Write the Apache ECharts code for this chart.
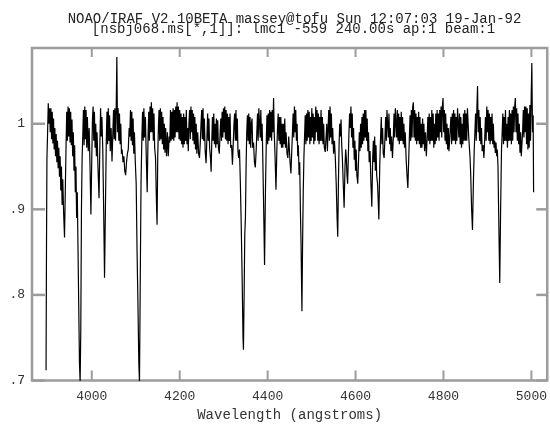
<!DOCTYPE html>
<html>
<head>
<meta charset="utf-8">
<script src="https://cdn.jsdelivr.net/npm/echarts@6.0.0/dist/echarts.min.js"></script>
<style>
html,body{margin:0;padding:0;background:#fff;}
#chart{width:550px;height:428px;}
</style>
</head>
<body>
<div id="chart"></div>
<script>
// ---- data ----
var titleLine1 = "NOAO/IRAF V2.10BETA massey@tofu Sun 12:07:03 19-Jan-92";
var titleLine2 = "[nsbj068.ms[*,1]]: lmc1 -559 240.00s ap:1 beam:1";
var xAxisTitle = "Wavelength (angstroms)";
var xTickValues = [4000, 4200, 4400, 4600, 4800, 5000];
var yTickValues = [0.7, 0.8, 0.9, 1.0];
var yTickLabels = [".7", ".8", ".9", "1"];
var xRange = [3864, 5036];
var yRange = [0.7, 1.0885];

// spectrum: [wavelength (A), normalised flux]
var spectrum = [
[3896,0.712],[3897,0.86],[3898,0.96],[3899.5,0.99],[3901,1.024],[3902.5,1.0],[3904,1.018],[3905.5,0.99],[3907,1.018],[3908.5,0.982],
[3910,1.014],[3911.5,0.977],[3913,1.006],[3914.5,0.97],[3916,0.995],[3917.5,0.962],[3919,0.988],[3920.5,0.955],[3922,0.98],[3923.5,0.948],
[3925,0.972],[3926.5,0.938],[3928,0.962],[3929.5,0.922],[3931,0.95],[3932.5,0.905],[3934,0.935],[3936,0.895],[3938,0.867],[3940,0.93],
[3941.5,0.975],[3943,1.014],[3944.5,0.98],[3946,1.02],[3947.5,0.985],[3949,1.018],[3950.5,0.978],[3952,1.014],[3953.5,0.975],[3955,1.005],
[3956.5,0.962],[3958,0.99],[3959.5,0.945],[3961,0.975],[3962.5,0.92],[3964,0.95],[3965.5,0.89],[3967,0.92],[3968.5,0.86],[3970,0.8],
[3972,0.72],[3973.5,0.698],[3975,0.76],[3976.5,0.9],[3978,0.96],[3979.5,0.985],[3981,1.016],[3982.5,0.975],[3984,1.02],[3985.5,0.982],
[3987,1.016],[3988.5,0.972],[3990,1.008],[3992,0.968],[3994,0.995],[3996,0.95],[3998,0.894],[4000,0.96],[4001.5,1.005],[4003,1.02],
[4004.5,0.98],[4006,1.014],[4007.5,0.972],[4009,1.0],[4010.5,0.962],[4012,0.99],[4014,0.95],[4016.5,0.913],[4018.5,0.98],[4020,1.018],
[4021.5,0.985],[4023,1.008],[4025,0.97],[4027,0.9],[4029,0.82],[4031,0.9],[4033,0.98],[4034.5,1.014],[4036,0.976],[4037.5,1.018],
[4039,0.98],[4040.5,1.01],[4042,0.968],[4044,0.995],[4046,0.956],[4048,0.99],[4049.5,1.016],[4051,0.982],[4052.5,1.018],[4054,0.98],
[4055.5,1.015],[4057,1.078],[4058.5,0.99],[4060,1.018],[4061.5,0.98],[4063,1.012],[4064.5,0.976],[4066,1.0],[4067.5,0.965],[4069,0.97],
[4071,0.955],[4073,0.962],[4075,0.945],[4077,0.94],[4079,0.955],[4081,0.965],[4083,0.97],[4085,0.995],[4086.5,0.985],[4088,1.016],
[4089.5,0.98],[4091,1.014],[4092.5,0.975],[4094,1.006],[4095.5,0.965],[4097,0.99],[4099,0.955],[4101,0.93],[4103,0.85],[4105,0.79],
[4107,0.72],[4108.5,0.698],[4110,0.8],[4112,0.93],[4114,0.985],[4115.5,1.014],[4117,0.98],[4118.5,1.018],[4120,0.984],[4122,1.008],
[4124,0.96],[4126,0.92],[4128,0.985],[4129.5,1.014],[4131,0.98],[4132.5,1.02],[4134,0.99],[4135.5,1.025],[4137,0.99],[4138.5,1.018],
[4140,0.98],[4141.5,1.012],[4143,0.972],[4145,0.96],[4147,0.91],[4148.5,0.882],[4150,0.96],[4151.5,0.995],[4153,1.016],[4154.5,0.98],
[4156,1.018],[4157.5,0.982],[4159,1.014],[4160.5,0.976],[4162,1.008],[4163.5,0.97],[4165,1.0],[4166.5,0.966],[4168,0.995],[4170,0.962],
[4172,0.99],[4174,0.962],[4176,0.985],[4177.5,0.978],[4179,1.016],[4180.5,0.98],[4182,1.014],[4183.5,0.982],[4185,1.018],[4186.5,0.98],
[4188,1.016],[4189.5,0.984],[4191,1.02],[4192.5,0.99],[4194,1.025],[4195.5,0.99],[4197,1.02],[4198.5,0.982],[4200,1.016],[4201.5,0.98],
[4203,1.012],[4204.5,0.976],[4206,1.008],[4207.5,0.972],[4209,1.012],[4210.5,0.976],[4212,1.008],[4213.5,0.98],[4215,1.016],[4216.5,0.976],
[4218,0.995],[4219.5,0.968],[4221,1.0],[4222.5,1.016],[4224,0.982],[4225.5,1.02],[4227,0.99],[4228.5,1.016],[4230,0.98],[4231.5,1.012],
[4233,0.976],[4234.5,1.008],[4236,0.97],[4237.5,1.0],[4239,0.965],[4241,0.99],[4243,0.965],[4245,0.96],[4247,0.98],[4248.5,1.0],
[4250,1.016],[4251.5,0.982],[4253,1.018],[4254.5,0.98],[4256,1.006],[4258,0.968],[4260,0.954],[4262,0.985],[4263.5,1.012],[4265,0.98],
[4266.5,1.006],[4268,0.972],[4270,0.96],[4271.5,0.944],[4273,0.98],[4274.5,1.008],[4276,0.98],[4277.5,1.012],[4279,0.976],[4280.5,1.0],
[4282,0.972],[4283.5,1.006],[4285,0.976],[4286.5,1.004],[4288,0.972],[4290,0.965],[4292,0.99],[4293.5,1.006],[4295,0.98],[4296.5,1.014],
[4298,0.984],[4299.5,1.018],[4301,0.99],[4302.5,1.02],[4304,0.982],[4305.5,1.016],[4307,0.98],[4308.5,1.012],[4310,0.976],[4311.5,1.008],
[4313,0.98],[4314.5,1.012],[4316,0.972],[4318,0.975],[4320,0.952],[4322,0.98],[4323.5,1.0],[4325,1.012],[4326.5,0.98],[4328,1.016],
[4329.5,0.98],[4331,1.006],[4332.5,0.968],[4334,0.96],[4336,0.97],[4338,0.93],[4340,0.88],[4342,0.82],[4344,0.75],[4345,0.736],
[4346.5,0.8],[4348,0.87],[4349.5,0.89],[4351,0.95],[4352.5,0.99],[4354,1.01],[4355.5,0.98],[4357,1.012],[4358.5,0.976],[4360,1.008],
[4361.5,0.972],[4363,1.0],[4364.5,1.006],[4366,0.972],[4368,0.978],[4370,0.955],[4372,0.949],[4374,0.97],[4375.5,0.99],[4377,1.012],
[4378.5,0.98],[4380,1.018],[4381.5,1.02],[4383,0.984],[4384.5,1.016],[4386,0.98],[4387.5,1.0],[4389,0.96],[4391,0.9],[4393,0.835],
[4395,0.92],[4397,0.98],[4398.5,1.01],[4400,0.976],[4401.5,1.012],[4403,0.98],[4404.5,1.016],[4406,0.984],[4407.5,1.014],[4409,0.98],
[4410.5,1.016],[4412,0.99],[4413.5,1.03],[4415,0.99],[4417,0.96],[4419,0.923],[4421,0.97],[4422.5,0.995],[4424,1.012],[4425.5,0.98],
[4427,1.008],[4428.5,0.976],[4430,1.008],[4431.5,0.972],[4433,1.0],[4434.5,0.972],[4436,1.0],[4437.5,0.976],[4439,1.006],[4440.5,0.972],
[4442,0.99],[4444,0.965],[4446,0.96],[4448,0.985],[4449.5,0.97],[4451,0.955],[4453,0.942],[4455,0.97],[4456.5,0.99],[4458,1.012],
[4459.5,0.984],[4461,1.02],[4462.5,0.99],[4464,1.016],[4465.5,0.98],[4467,1.0],[4468.5,0.962],[4470,0.975],[4471.5,0.94],[4473,0.955],
[4474.5,0.9],[4476,0.86],[4478,0.781],[4479.5,0.86],[4481,0.92],[4482.5,0.96],[4484,0.985],[4485.5,1.01],[4487,0.976],[4488.5,1.012],
[4490,0.98],[4491.5,1.016],[4493,0.984],[4494.5,1.014],[4496,0.976],[4497.5,1.008],[4499,0.98],[4500.5,1.018],[4502,0.984],[4503.5,1.012],
[4505,0.976],[4506.5,1.008],[4508,0.98],[4509.5,1.02],[4511,0.99],[4512.5,1.016],[4514,0.98],[4515.5,1.012],[4517,0.976],[4518.5,1.008],
[4520,0.98],[4521.5,1.016],[4523,0.98],[4524.5,1.008],[4526,0.976],[4527.5,1.0],[4529,0.972],[4531,0.967],[4533,0.985],[4534.5,1.0],
[4536,0.968],[4537.5,0.995],[4539,1.016],[4540.5,0.98],[4542,1.02],[4543.5,0.984],[4545,1.012],[4546.5,0.976],[4548,0.995],[4550,0.965],
[4552,0.98],[4554,0.96],[4556,0.93],[4558,0.89],[4559.5,0.868],[4561,0.93],[4562.5,0.975],[4564,1.0],[4565.5,0.985],[4567,1.005],
[4568.5,0.975],[4570,0.96],[4572,0.93],[4574,0.902],[4576,0.95],[4577.5,0.97],[4579,0.96],[4580.5,0.94],[4582,0.93],[4583.5,0.96],
[4585,0.99],[4586.5,1.012],[4588,0.995],[4589.5,1.02],[4591,0.984],[4592.5,1.012],[4594,0.972],[4595.5,0.995],[4597,0.958],[4598.5,0.98],
[4600,0.945],[4601.5,0.97],[4603,0.94],[4605,0.93],[4607,0.96],[4608.5,0.99],[4610,0.968],[4611.5,1.0],[4613,0.972],[4614.5,1.008],
[4616,0.976],[4617.5,1.012],[4619,0.98],[4620.5,1.016],[4622,0.984],[4623.5,1.016],[4625,0.98],[4626.5,1.006],[4628,0.968],[4629.5,0.99],
[4631,0.955],[4633,0.968],[4635,0.93],[4637,0.903],[4639,0.96],[4640.5,0.98],[4642,0.955],[4643.5,0.985],[4645,0.945],[4646.5,0.975],
[4648,0.94],[4650,0.93],[4651.5,0.91],[4653,0.888],[4655,0.95],[4657,0.985],[4658.5,1.008],[4660,0.976],[4661.5,0.995],[4663,0.965],
[4665,0.96],[4667,0.985],[4668.5,1.008],[4670,0.98],[4671.5,1.016],[4673,1.018],[4674.5,0.984],[4676,1.012],[4677.5,0.976],[4679,0.995],
[4680.5,0.968],[4682,0.985],[4684,0.96],[4686,0.985],[4687.5,1.012],[4689,0.984],[4690.5,1.018],[4692,1.02],[4693.5,0.984],[4695,1.016],
[4696.5,0.98],[4698,1.012],[4699.5,0.976],[4701,1.008],[4702.5,0.98],[4704,1.014],[4705.5,0.98],[4707,1.008],[4708.5,0.976],[4710,1.0],
[4711.5,0.972],[4713,0.99],[4715,0.96],[4717,0.94],[4719,0.925],[4721,0.96],[4722.5,0.985],[4724,1.01],[4725.5,0.98],[4727,1.016],
[4728.5,0.984],[4730,1.02],[4731.5,1.025],[4733,0.984],[4734.5,1.016],[4736,0.98],[4737.5,1.012],[4739,0.976],[4740.5,1.008],[4742,0.98],
[4743.5,1.014],[4745,0.976],[4746.5,1.008],[4748,0.972],[4749.5,1.0],[4751,0.972],[4752.5,1.006],[4754,0.976],[4755.5,1.0],[4757,0.968],
[4759,0.99],[4761,0.962],[4763,0.985],[4764.5,1.008],[4766,0.98],[4767.5,1.012],[4769,0.976],[4770.5,1.008],[4772,0.98],[4773.5,1.016],
[4775,0.98],[4776.5,1.012],[4778,0.972],[4779.5,1.0],[4781,0.976],[4782.5,1.012],[4784,0.98],[4785.5,1.016],[4787,0.984],[4788.5,1.012],
[4790,0.98],[4791.5,1.016],[4793,0.99],[4794.5,1.02],[4796,0.984],[4797.5,1.02],[4799,1.03],[4800.5,0.99],[4802,1.016],[4803.5,0.98],
[4805,1.012],[4806.5,0.976],[4808,1.0],[4809.5,0.97],[4811,0.995],[4812.5,0.968],[4814,0.97],[4815.5,0.995],[4817,1.008],[4818.5,0.976],
[4820,1.012],[4821.5,0.98],[4823,1.016],[4824.5,0.98],[4826,1.012],[4827.5,0.976],[4829,1.008],[4830.5,0.98],[4832,1.018],[4833.5,1.02],
[4835,0.984],[4836.5,1.012],[4838,0.976],[4839.5,1.008],[4841,0.972],[4842.5,1.0],[4844,0.976],[4845.5,1.012],[4847,0.98],[4848.5,1.016],
[4850,0.98],[4851.5,1.012],[4853,0.98],[4854.5,1.018],[4856,1.02],[4857.5,0.984],[4859,0.985],[4860.5,0.96],[4862,0.94],[4864,0.9],
[4866,0.876],[4868,0.93],[4870,0.97],[4871.5,0.99],[4873,1.012],[4874.5,0.98],[4876,1.018],[4877.5,1.044],[4879,0.99],[4880.5,1.016],
[4882,0.98],[4883.5,1.008],[4885,0.976],[4886.5,0.995],[4888,0.968],[4890,0.975],[4892,0.96],[4894,0.985],[4895.5,1.008],[4897,0.98],
[4898.5,1.02],[4900,0.99],[4901.5,1.016],[4903,0.98],[4904.5,1.012],[4906,0.976],[4907.5,1.008],[4909,0.98],[4910.5,1.012],[4912,0.976],
[4913.5,1.0],[4915,0.972],[4916.5,0.98],[4918,0.966],[4919.5,0.978],[4921,0.962],[4922.5,0.97],[4924,0.95],[4926,0.88],[4928,0.814],
[4930,0.9],[4932,0.97],[4933.5,0.99],[4935,1.012],[4936.5,0.976],[4938,1.008],[4939.5,0.98],[4941,1.016],[4942.5,0.98],[4944,1.0],
[4945.5,0.972],[4947,1.008],[4948.5,0.98],[4950,1.016],[4951.5,0.98],[4953,1.012],[4954.5,0.976],[4956,1.016],[4957.5,0.98],[4959,1.02],
[4960.5,0.99],[4962,1.02],[4963.5,1.03],[4965,0.99],[4966.5,1.018],[4968,0.98],[4969.5,1.012],[4971,0.976],[4972.5,1.0],[4974,0.966],
[4975.5,0.99],[4977,0.962],[4978.5,0.96],[4980,0.99],[4981.5,1.016],[4983,0.984],[4984.5,1.02],[4986,0.99],[4987.5,1.02],[4989,0.976],
[4990.5,1.018],[4992,0.97],[4993.5,1.012],[4995,0.972],[4996.5,1.022],[4998,0.98],[4999.5,1.03],[5001,1.071],[5002.5,0.99],[5004,1.01],
[5005,0.92]
];

// ---- chart ----
var chart = echarts.init(document.getElementById('chart'), null, {renderer: 'canvas'});
var mono = '"Liberation Mono", "DejaVu Sans Mono", monospace';
var frameColor = '#9c9c9c';
var tickColor = '#9c9c9c';

function near(list, v) {
  for (var i = 0; i < list.length; i++) {
    if (Math.abs(list[i] - v) < 1e-6) return i;
  }
  return -1;
}
function xLabel(v) { var i = near(xTickValues, v); return i < 0 ? '' : String(xTickValues[i]); }
function yLabel(v) { var i = near(yTickValues, v); return i < 0 ? '' : yTickLabels[i]; }

var option = {
  animation: false,
  backgroundColor: '#ffffff',
  title: [
    {text: titleLine1, left: 289.5, top: 9, textAlign: 'center',
     textStyle: {fontFamily: mono, fontSize: 14, fontWeight: 'normal', color: '#222', lineHeight: 10}},
    {text: titleLine2, left: 288.5, top: 19, textAlign: 'center',
     textStyle: {fontFamily: mono, fontSize: 14, fontWeight: 'normal', color: '#222', lineHeight: 10}}
  ],
  grid: {left: 32, right: 2.5, top: 48, bottom: 47.5, show: true,
         borderColor: frameColor, borderWidth: 2.5, backgroundColor: 'transparent'},
  xAxis: [
    {type: 'value', position: 'bottom', min: xRange[0], max: xRange[1], splitNumber: 5,
     axisLine: {show: false}, splitLine: {show: false}, axisTick: {show: false},
     axisLabel: {show: true, margin: 10, fontFamily: mono, fontSize: 13, color: '#333',
                 showMinLabel: false, showMaxLabel: false, formatter: xLabel},
     name: xAxisTitle, nameLocation: 'middle', nameGap: 27,
     nameTextStyle: {fontFamily: mono, fontSize: 14, color: '#333'}}
  ],
  yAxis: [
    {type: 'value', position: 'left', min: yRange[0], max: yRange[1], splitNumber: 4,
     axisLine: {show: false}, splitLine: {show: false}, axisTick: {show: false},
     axisLabel: {show: true, margin: 7, fontFamily: mono, fontSize: 13, color: '#333',
                 showMaxLabel: false, formatter: yLabel}}
  ],
  series: [
    {type: 'line', name: 'flux', data: spectrum,
     showSymbol: false, symbol: 'none', clip: true, sampling: null,
     lineStyle: {color: '#000', width: 1.2}}
  ]
};
chart.setOption(option);

// tick marks on all four sides, placed through the axes' own scales
function drawTicks() {
  var xl = chart.convertToPixel({xAxisIndex: 0}, xRange[0]);
  var xr = chart.convertToPixel({xAxisIndex: 0}, xRange[1]);
  var yb = chart.convertToPixel({yAxisIndex: 0}, yRange[0]);
  var yt = chart.convertToPixel({yAxisIndex: 0}, yRange[1]);
  var els = [];
  xTickValues.forEach(function (v) {
    var x = chart.convertToPixel({xAxisIndex: 0}, v);
    els.push({type: 'line', silent: true, z: 5, shape: {x1: x, y1: yb, x2: x, y2: yb - 10},
              style: {stroke: tickColor, lineWidth: 2}});
    els.push({type: 'line', silent: true, z: 5, shape: {x1: x, y1: yt, x2: x, y2: yt + 9},
              style: {stroke: tickColor, lineWidth: 2}});
  });
  yTickValues.forEach(function (v) {
    var y = chart.convertToPixel({yAxisIndex: 0}, v);
    els.push({type: 'line', silent: true, z: 5, shape: {x1: xl, y1: y, x2: xl + 13, y2: y},
              style: {stroke: tickColor, lineWidth: 2.5}});
    els.push({type: 'line', silent: true, z: 5, shape: {x1: xr, y1: y, x2: xr - 11, y2: y},
              style: {stroke: tickColor, lineWidth: 2.5}});
  });
  chart.setOption({graphic: els});
}
drawTicks();
</script>
</body>
</html>
